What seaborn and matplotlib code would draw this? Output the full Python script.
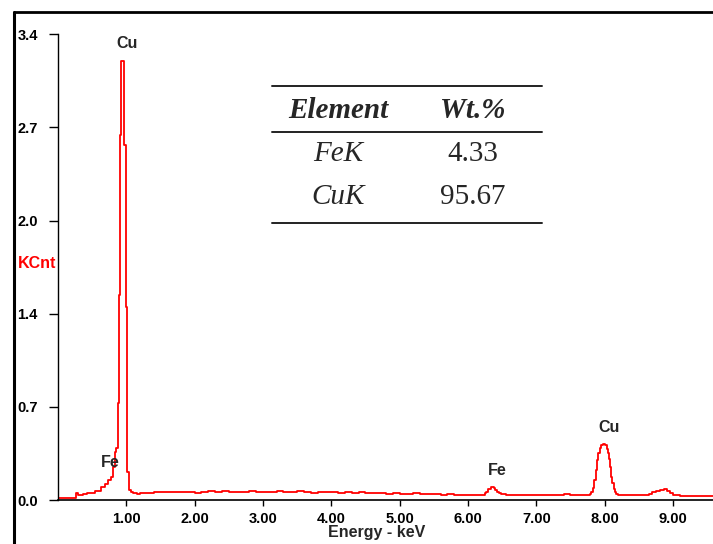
import matplotlib
matplotlib.use('Agg')
import matplotlib.pyplot as plt
import seaborn as sns
import pandas as pd
from matplotlib.lines import Line2D

# EDS spectrum (step breakpoints, keV -> KCnt)
energy_kev = [
    0.00, 0.27, 0.29, 0.36, 0.42, 0.54, 0.635, 0.683, 0.73, 0.77,
    0.805, 0.83, 0.855, 0.878, 0.896, 0.913, 0.928, 0.966, 0.991, 1.010,
    1.035, 1.064,
    1.10, 1.15, 1.20, 1.30, 1.40, 1.45, 1.50, 1.60, 1.70, 1.80, 1.90, 2.00,
    2.10, 2.20, 2.30, 2.40, 2.50, 2.60, 2.70, 2.80, 2.90, 3.00,
    3.10, 3.20, 3.30, 3.40, 3.50, 3.60, 3.70, 3.80, 3.90, 4.00,
    4.10, 4.20, 4.30, 4.40, 4.50, 4.60, 4.70, 4.80, 4.90, 5.00,
    5.10, 5.20, 5.30, 5.40, 5.50, 5.60, 5.70, 5.80, 5.90, 6.00,
    6.10, 6.20, 6.245, 6.27, 6.30, 6.343, 6.376, 6.40, 6.43, 6.46, 6.489,
    6.55, 6.60, 6.70, 6.80, 6.90, 7.00, 7.10, 7.20, 7.30, 7.40, 7.50, 7.60,
    7.70, 7.78, 7.806, 7.83, 7.85, 7.87, 7.89, 7.91, 7.928, 7.95,
    7.976, 8.01, 8.034, 8.05, 8.064, 8.084, 8.10, 8.113, 8.13, 8.147,
    8.17, 8.191, 8.30, 8.40, 8.50, 8.60, 8.65, 8.70, 8.75, 8.81, 8.87,
    8.92, 8.96, 9.00, 9.10, 9.20, 9.30, 9.40, 9.50, 9.60,
]
counts_kcnt = [
    0.018, 0.053, 0.037, 0.042, 0.049, 0.068, 0.093, 0.117, 0.146, 0.170,
    0.240, 0.350, 0.380, 0.708, 1.497, 2.665, 3.205, 2.590, 1.410, 0.204,
    0.075, 0.055,
    0.050, 0.044, 0.048, 0.053, 0.055, 0.062, 0.058, 0.056, 0.055, 0.058, 0.055, 0.052,
    0.058, 0.063, 0.057, 0.065, 0.062, 0.058, 0.055, 0.063, 0.057, 0.059,
    0.060, 0.067, 0.062, 0.060, 0.063, 0.058, 0.053, 0.058, 0.055, 0.057,
    0.054, 0.060, 0.052, 0.055, 0.048, 0.052, 0.050, 0.046, 0.049, 0.044,
    0.047, 0.052, 0.045, 0.042, 0.046, 0.040, 0.043, 0.038, 0.036, 0.039,
    0.036, 0.040, 0.048, 0.062, 0.078, 0.093, 0.085, 0.072, 0.060, 0.052, 0.045,
    0.040, 0.036, 0.038, 0.034, 0.037, 0.036, 0.040, 0.035, 0.036, 0.041, 0.036, 0.035,
    0.038, 0.045, 0.060, 0.090, 0.146, 0.220, 0.290, 0.340, 0.380, 0.400,
    0.410, 0.400, 0.370, 0.340, 0.300, 0.240, 0.170, 0.124, 0.080, 0.060,
    0.045, 0.037, 0.034, 0.036, 0.033, 0.038, 0.046, 0.056, 0.066, 0.075, 0.078,
    0.066, 0.050, 0.037, 0.030, 0.031, 0.029, 0.030, 0.028, 0.028,
]

y_ticks = [0.0, 0.68, 1.36, 2.04, 2.72, 3.40]
y_tick_labels = ['0.0', '0.7', '1.4', '2.0', '2.7', '3.4']
x_ticks = [1, 2, 3, 4, 5, 6, 7, 8, 9]
x_tick_labels = ['1.00', '2.00', '3.00', '4.00', '5.00', '6.00', '7.00', '8.00', '9.00']

# peak labels: (energy, KCnt, element)
peak_energy = [1.013, 0.768, 6.43, 8.07]
peak_height = [3.33, 0.274, 0.212, 0.533]
peak_element = ['Cu', 'Fe', 'Fe', 'Cu']

# composition table
table_elements = ['FeK', 'CuK']
table_wt = ['4.33', '95.67']

sns.set_style('ticks')
plt.rcParams['font.family'] = ['Liberation Sans', 'DejaVu Sans']

spectrum = pd.DataFrame({'Energy': energy_kev, 'KCnt': counts_kcnt})

fig = plt.figure(figsize=(7.13, 5.44), dpi=100)
ax = fig.add_axes([58 / 713, 44 / 544, 1 - 58 / 713, 0.856])

sns.lineplot(data=spectrum, x='Energy', y='KCnt', ax=ax, color='#ff0000',
             linewidth=1.3, drawstyle='steps-post', estimator=None)

ax.set_xlim(0, 9.586)
ax.set_ylim(0, 3.4)
ax.set_xticks(x_ticks)
ax.set_xticklabels(x_tick_labels, fontweight='bold', fontsize=10.5)
ax.set_yticks(y_ticks)
ax.set_yticklabels(y_tick_labels, fontweight='bold', fontsize=10.5)
ax.tick_params(axis='x', direction='out', length=4.5, width=1, pad=4, colors='black')
ax.tick_params(axis='y', direction='out', length=6.5, width=1, pad=8, colors='black')
ax.set_xlabel('')
ax.set_ylabel('')
sns.despine(ax=ax, top=True, right=True)
ax.spines['left'].set_linewidth(1.0)
ax.spines['bottom'].set_linewidth(1.2)
ax.spines['left'].set_color('black')
ax.spines['bottom'].set_color('black')

for e, h, name in zip(peak_energy, peak_height, peak_element):
    ax.text(e, h, name, ha='center', va='center', fontsize=11.5, fontweight='bold')

fig.text(18 / 713, 1 - 263 / 544, 'KCnt', color='#ff0000', fontsize=11.5,
         fontweight='bold', ha='left', va='center')
fig.text(377 / 713, 1 - 532 / 544, 'Energy - keV', fontsize=11.5,
         fontweight='bold', ha='center', va='center')

# outer frame (left and top edges visible)
fig.add_artist(Line2D([14.2 / 713, 14.2 / 713], [0, 1 - 12 / 544],
                      transform=fig.transFigure, color='black', linewidth=2.2))
fig.add_artist(Line2D([14.2 / 713, 1], [1 - 12 / 544, 1 - 12 / 544],
                      transform=fig.transFigure, color='black', linewidth=2.0))

# composition table
x0, x1 = 271.7 / 713, 541.7 / 713
for ypx in [86, 131.7, 223.3]:
    fig.add_artist(Line2D([x0, x1], [1 - ypx / 544, 1 - ypx / 544],
                          transform=fig.transFigure, color='#222222', linewidth=1.4))

serif = ['Liberation Serif', 'DejaVu Serif']
col1, col2 = 338 / 713, 473 / 713
fig.text(col1, 1 - 110 / 544, 'Element', family=serif, fontsize=21,
         fontweight='bold', style='italic', ha='center', va='center')
fig.text(col2, 1 - 110 / 544, 'Wt.%', family=serif, fontsize=21,
         fontweight='bold', style='italic', ha='center', va='center')
for ypx, el, wt in zip([154, 197], table_elements, table_wt):
    fig.text(col1, 1 - ypx / 544, el, family=serif, fontsize=21,
             style='italic', ha='center', va='center')
    fig.text(col2, 1 - ypx / 544, wt, family=serif, fontsize=21,
             ha='center', va='center')

fig.savefig('out.png', dpi=100)
